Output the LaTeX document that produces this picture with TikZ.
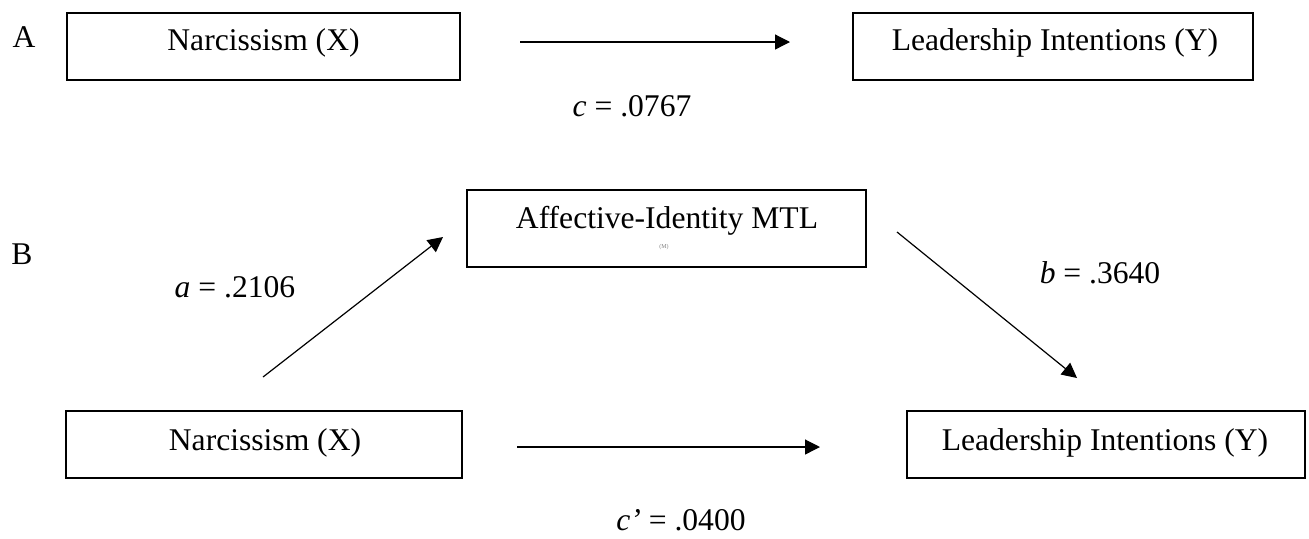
\documentclass[tikz,border=0pt]{standalone}
\usepackage{fontspec}
\setmainfont{Liberation Serif}
\usetikzlibrary{arrows.meta}
\begin{document}
\begin{tikzpicture}[x=0.5pt,y=-0.5pt,
  box/.style={draw=black,line width=1.1pt,rectangle,inner sep=0pt},
  txt/.style={inner sep=0pt,font=\fontsize{15.8}{19}\selectfont},
  arr/.style={line width=0.6pt,-{Triangle[length=7.5pt,width=7.5pt]}},
  tiny/.style={inner sep=0pt,font=\fontsize{3}{3}\selectfont,text=gray}]
\useasboundingbox (0,0) rectangle (1309,538);
% panel labels
\node[txt] (lA) at (24,37) {A};
\node[txt] (lB) at (22,254) {B};
% panel A boxes
\node[box,minimum width=196.5pt,minimum height=33.5pt] (xA) at (263.5,46.5) {};
\node[txt] (xAt) at (263.5,43) {Narcissism (X)};
\node[box,minimum width=200pt,minimum height=33.5pt] (yA) at (1053,46.5) {};
\node[txt] (yAt) at (1055,43) {Leadership Intentions (Y)};
\coordinate (a1) at (520,42);
\coordinate (a2) at (790,42);
\draw[arr] (a1) -- (a2);
\node[txt] (cA) at (632,106) {\textit{c} = .0767};
% panel B boxes
\node[box,minimum width=199.5pt,minimum height=38.5pt] (mB) at (666.5,228.5) {};
\node[txt] (mBt) at (667,221) {Affective-Identity MTL};
\node[tiny] (mBs) at (664,247) {(M)};
\node[box,minimum width=198pt,minimum height=33.5pt] (xB) at (264,444.5) {};
\node[txt] (xBt) at (265,443) {Narcissism (X)};
\node[box,minimum width=199pt,minimum height=33.5pt] (yB) at (1106,444.5) {};
\node[txt] (yBt) at (1105,443) {Leadership Intentions (Y)};
% arrows panel B
\coordinate (pa1) at (263,377);
\coordinate (pa2) at (443,237);
\draw[arr] (pa1) -- (pa2);
\node[txt] (la) at (235,287) {\textit{a} = .2106};
\coordinate (pb1) at (897,232);
\coordinate (pb2) at (1077,378);
\draw[arr] (pb1) -- (pb2);
\node[txt] (lb) at (1100,273) {\textit{b} = .3640};
\coordinate (pc1) at (517,447);
\coordinate (pc2) at (820,447);
\draw[arr] (pc1) -- (pc2);
\node[txt] (lc) at (681,520) {\textit{c’} = .0400};
\end{tikzpicture}
\end{document}
